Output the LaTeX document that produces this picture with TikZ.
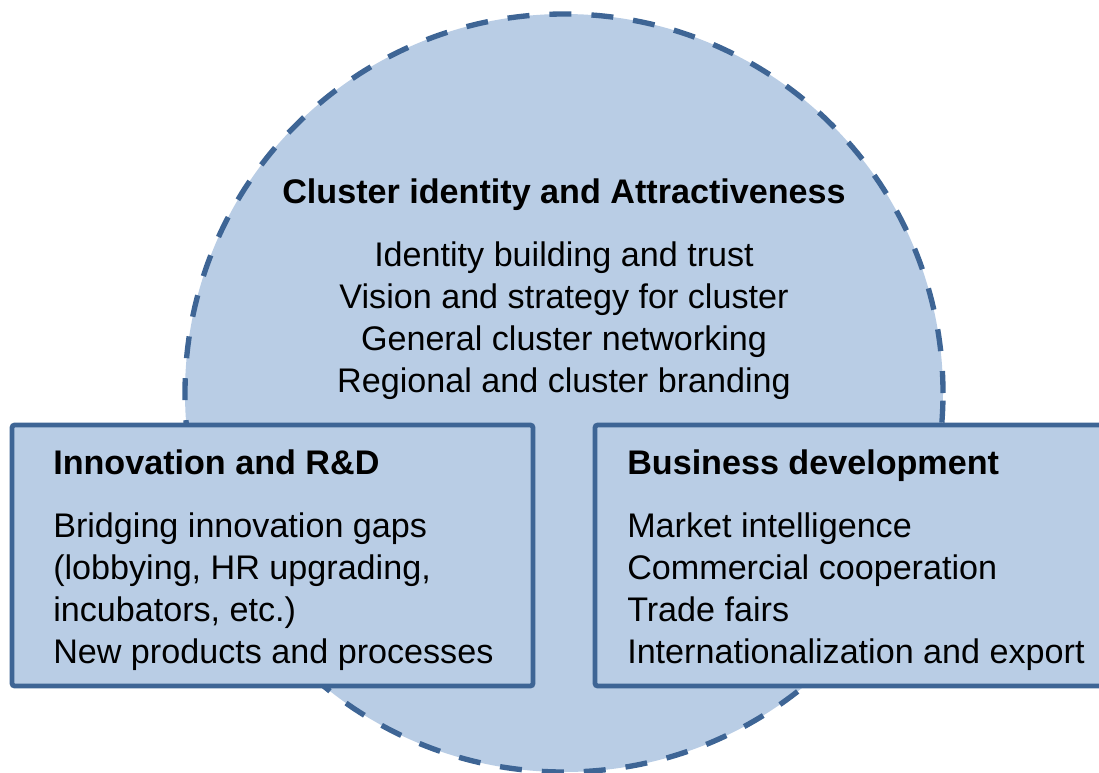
\documentclass[tikz,border=0pt]{standalone}
\usepackage{fontspec}
\setmainfont{Liberation Sans}
\definecolor{clusterfill}{HTML}{B9CDE5}
\definecolor{clusterline}{HTML}{3E6595}

\begin{document}
\begin{tikzpicture}[x=0.75pt, y=-0.75pt,
    textfont/.style={font=\fontsize{25.6}{31.3}\selectfont, inner sep=0pt},
    headfont/.style={font=\bfseries\fontsize{25.6}{31.3}\selectfont, inner sep=0pt},
    areabox/.style={draw=clusterline, fill=clusterfill, line width=3.6pt, rounded corners=2pt}]
    \useasboundingbox (0,0) rectangle (1099,772);

    % Define the corners and centre
    \coordinate (O) at (564,393);
    \coordinate (A) at (12,425);
    \coordinate (B) at (533,686);
    \coordinate (C) at (595,425);
    \coordinate (D) at (1110,686);

    % Dashed circle behind the two boxes
    \draw[clusterline, fill=clusterfill, line width=4pt,
          dash pattern=on 16.5pt off 15pt] (O) circle (284.25pt);

    % The two boxes
    \draw[areabox] (A) rectangle (B); % left box
    \draw[areabox] (C) rectangle (D); % right box

    % Circle texts (multi-line nodes sit on their last baseline)
    \node[headfont, anchor=base] (idhead) at (564,203) {Cluster identity and Attractiveness};
    \node[textfont, anchor=base, align=center] (idlist) at (564,392)
        {Identity building and trust\\Vision and strategy for cluster\\General cluster networking\\Regional and cluster branding};

    % Left box texts
    \node[headfont, anchor=base west] (rdhead) at (53,474) {Innovation and R\&D};
    \node[textfont, anchor=base west, align=left] (rdlist) at (53,663)
        {Bridging innovation gaps\\(lobbying, HR upgrading,\\incubators, etc.)\\New products and processes};

    % Right box texts
    \node[headfont, anchor=base west] (bdhead) at (627,474) {Business development};
    \node[textfont, anchor=base west, align=left] (bdlist) at (627,663)
        {Market intelligence\\Commercial cooperation\\Trade fairs\\Internationalization and export};
\end{tikzpicture}
\end{document}
